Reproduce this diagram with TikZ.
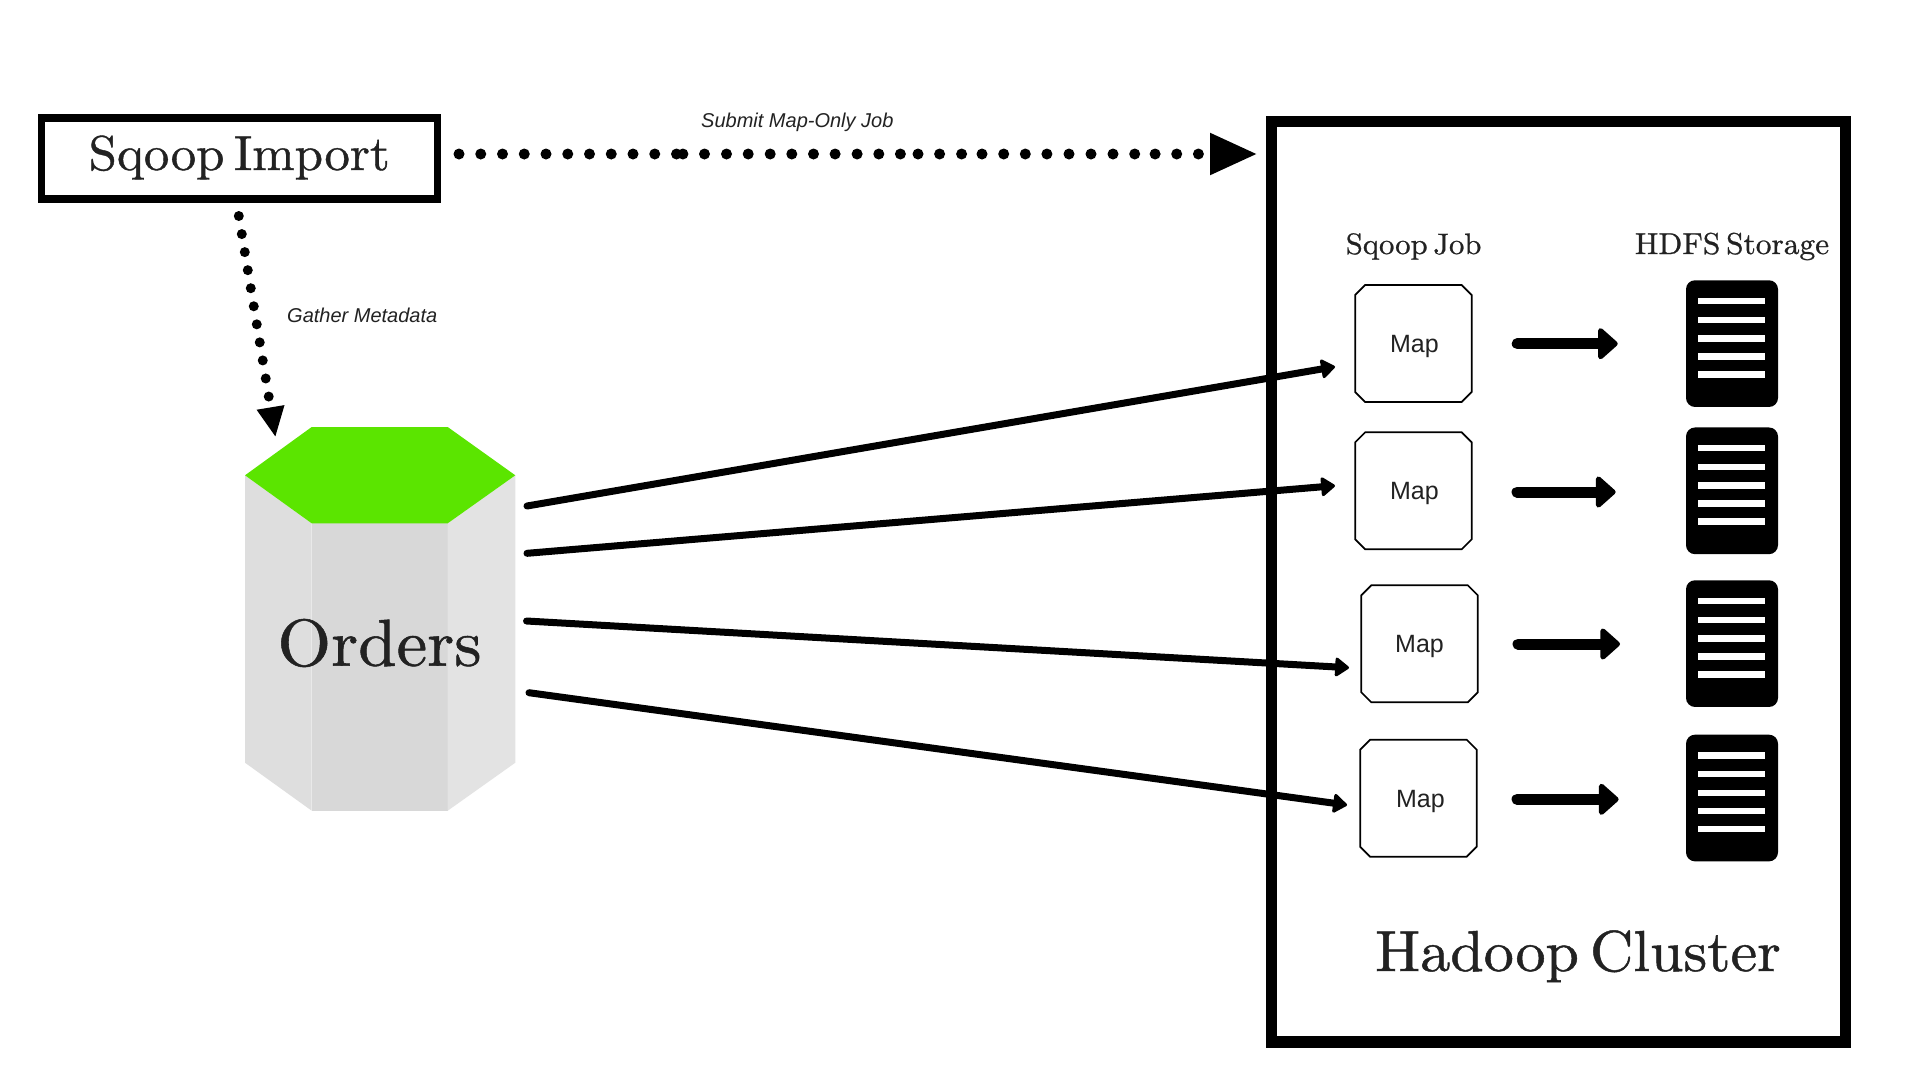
\documentclass[tikz,border=0pt]{standalone}
\usepackage{fontspec}
\usetikzlibrary{arrows.meta,shapes.misc}
\newfontfamily\disp{lmroman10-regular.otf}[FakeBold=0.8,FakeStretch=1.04,WordSpace=0.55]
\newfontfamily\lib{Liberation Sans}
\definecolor{ink}{HTML}{222222}
\definecolor{topgreen}{HTML}{5BE500}
\newcommand{\fs}[1]{\fontsize{#1}{#1}\selectfont}
\tikzset{
  x=1pt,y=-1pt,
  heavybox/.style={draw=black,rectangle,inner sep=0pt,outer sep=0pt},
  title/.style={anchor=base,inner sep=0pt,text=ink,font=\disp},
  note/.style={anchor=base west,inner sep=0pt,text=ink,font=\lib\itshape\fs{20}},
  mapbox/.style={draw=black,line width=1.7pt,fill=white,chamfered rectangle,chamfered rectangle sep=5pt,
     minimum width=116.5pt,minimum height=117pt,inner sep=0pt,outer sep=0pt,text=ink,
     font=\lib\fs{25},text height=18pt,text depth=0pt},
  store/.style={fill=black,rectangle,rounded corners=9pt,minimum width=92pt,minimum height=126.7pt,inner sep=0pt,outer sep=0pt},
  bar/.style={fill=white},
  dotline/.style={line width=11pt,line cap=round,draw=black},
  longarrow/.style={line width=7pt,line cap=round,draw=black,-{Triangle[length=15pt,width=21pt,line width=3pt,round]}},
  shortarrow/.style={line width=11pt,line cap=round,draw=black,-{Triangle[length=21pt,width=36pt,line width=5pt,round]}},
}
\begin{document}
\begin{tikzpicture}
\useasboundingbox (0,0) rectangle (1920,1080);
\fill[white] (0,0) rectangle (1920,1080);

% Sqoop Import
\node[heavybox,line width=7.4pt,minimum width=396pt,minimum height=81pt,
      font=\disp\fs{49},text=ink,text height=33pt,text depth=10pt] (sqoop) at (239.2,158.5) {Sqoop Import};

% Hadoop cluster
\node[heavybox,line width=11.2pt,minimum width=574.3pt,minimum height=920.3pt] (hadoop) at (1558.55,581.85) {};

% Orders cylinder
\fill[fill=black!13] (245,475.3) -- (311.7,523.3) -- (311.7,810.7) -- (245,762.7) -- cycle;
\fill[fill=black!15.3] (311.7,523.3) -- (447.7,523.3) -- (447.7,810.7) -- (311.7,810.7) -- cycle;
\fill[fill=black!11] (447.7,523.3) -- (515.3,475.3) -- (515.3,762.7) -- (447.7,810.7) -- cycle;
\fill[topgreen] (311.7,427) -- (447.7,427) -- (515.3,475.3) -- (447.7,523.3) -- (311.7,523.3) -- (245,475.3) -- cycle;
\node[title,font=\disp\fs{66.4}] (orders) at (379.5,665.7) {Orders};

% Titles
\node[title,font=\disp\fs{29.5}] (jobtitle) at (1413.6,254) {Sqoop Job};
\node[title,font=\disp\fs{30.2}] (hdfstitle) at (1732,254) {HDFS Storage};
\node[title,font=\disp\fs{57.8}] (clustertitle) at (1578,971) {Hadoop Cluster};

% Map boxes
\node[mapbox] (map1) at (1413.4,343.5) {\hspace{2pt}Map};
\node[mapbox] (map2) at (1413.4,490.8) {\hspace{2pt}Map};
\node[mapbox] (map3) at (1419.5,643.8) {Map};
\node[mapbox] (map4) at (1418.4,798.2) {\hspace{4pt}Map};

% Storage
\node[store] (s1) at (1732,343.6) {};
\node[store] (s2) at (1732,490.8) {};
\node[store] (s3) at (1732,643.6) {};
\node[store] (s4) at (1732,798) {};
\foreach \yy in {300.7,319.7,338.3,356.3,374.3,
                 448,466.7,485.3,503.3,521.3,
                 601,619.7,638.3,656.3,674.3,
                 755.3,774,792.7,810.7,828.7}
  \fill[bar] (1697.7,\yy-3.2) rectangle (1765,\yy+3.2);

% Free ends of the connectors
\coordinate (a1) at (527,506);
\coordinate (a2) at (527,553.3);
\coordinate (a3) at (526.5,621);
\coordinate (a4) at (529,692.7);
\coordinate (b1) at (1335,366.7);
\coordinate (b2) at (1335,485.7);
\coordinate (b3) at (1349,667.7);
\coordinate (b4) at (1347,805);
\coordinate (c1) at (1517.2,343.7);
\coordinate (c2) at (1517,492);
\coordinate (c3) at (1518,644);
\coordinate (c4) at (1517,799.3);
\coordinate (d1) at (1617.7,343.7);
\coordinate (d2) at (1615.6,492);
\coordinate (d3) at (1620,644);
\coordinate (d4) at (1618.6,799.3);
\coordinate (submitstart) at (459,154);
\coordinate (submitend) at (1257.6,154);
\coordinate (gatherstart) at (238.8,216);
\coordinate (gatherend) at (275.5,437.3);

% Connectors
\foreach \i in {1,2,3,4} {
  \draw[longarrow] (a\i) -- (b\i);
  \draw[shortarrow] (c\i) -- (d\i);
}
\draw[dotline,dash pattern=on 0pt off 21.75pt on 0pt off 21.75pt on 0pt off 21.75pt on 0pt off 21.75pt on 0pt off 21.75pt
  on 0pt off 21.75pt on 0pt off 21.75pt on 0pt off 21.75pt on 0pt off 21.75pt on 0pt off 21.75pt
  on 0pt off 6.4pt on 0pt off 21.6pt on 0pt off 22pt on 0pt off 21.7pt on 0pt off 22pt on 0pt off 21.6pt
  on 0pt off 21.7pt on 0pt off 21.6pt on 0pt off 22pt on 0pt off 21.7pt on 0pt off 21.6pt on 0pt off 17.6pt
  on 0pt off 21.6pt on 0pt off 22pt on 0pt off 20.4pt on 0pt off 21.7pt on 0pt off 21.6pt on 0pt off 21.6pt
  on 0pt off 22.1pt on 0pt off 22pt on 0pt off 22pt on 0pt off 21.7pt on 0pt off 20.4pt on 0pt off 21.6pt
  on 0pt off 21.7pt on 0pt off 200pt,
  -{Triangle[length=47.6pt,width=39pt]}] (submitstart) -- (submitend);
\draw[dotline,line width=10pt,dash pattern=on 0pt off 18.3pt,
  -{Triangle[length=30.3pt,width=25.8pt]}] (gatherstart) -- (gatherend);

% Connector labels
\node[note] (submitlabel) at (701,127.7) {Submit Map-Only Job};
\node[note] (gatherlabel) at (287,322.7) {Gather Metadata};
\end{tikzpicture}
\end{document}
